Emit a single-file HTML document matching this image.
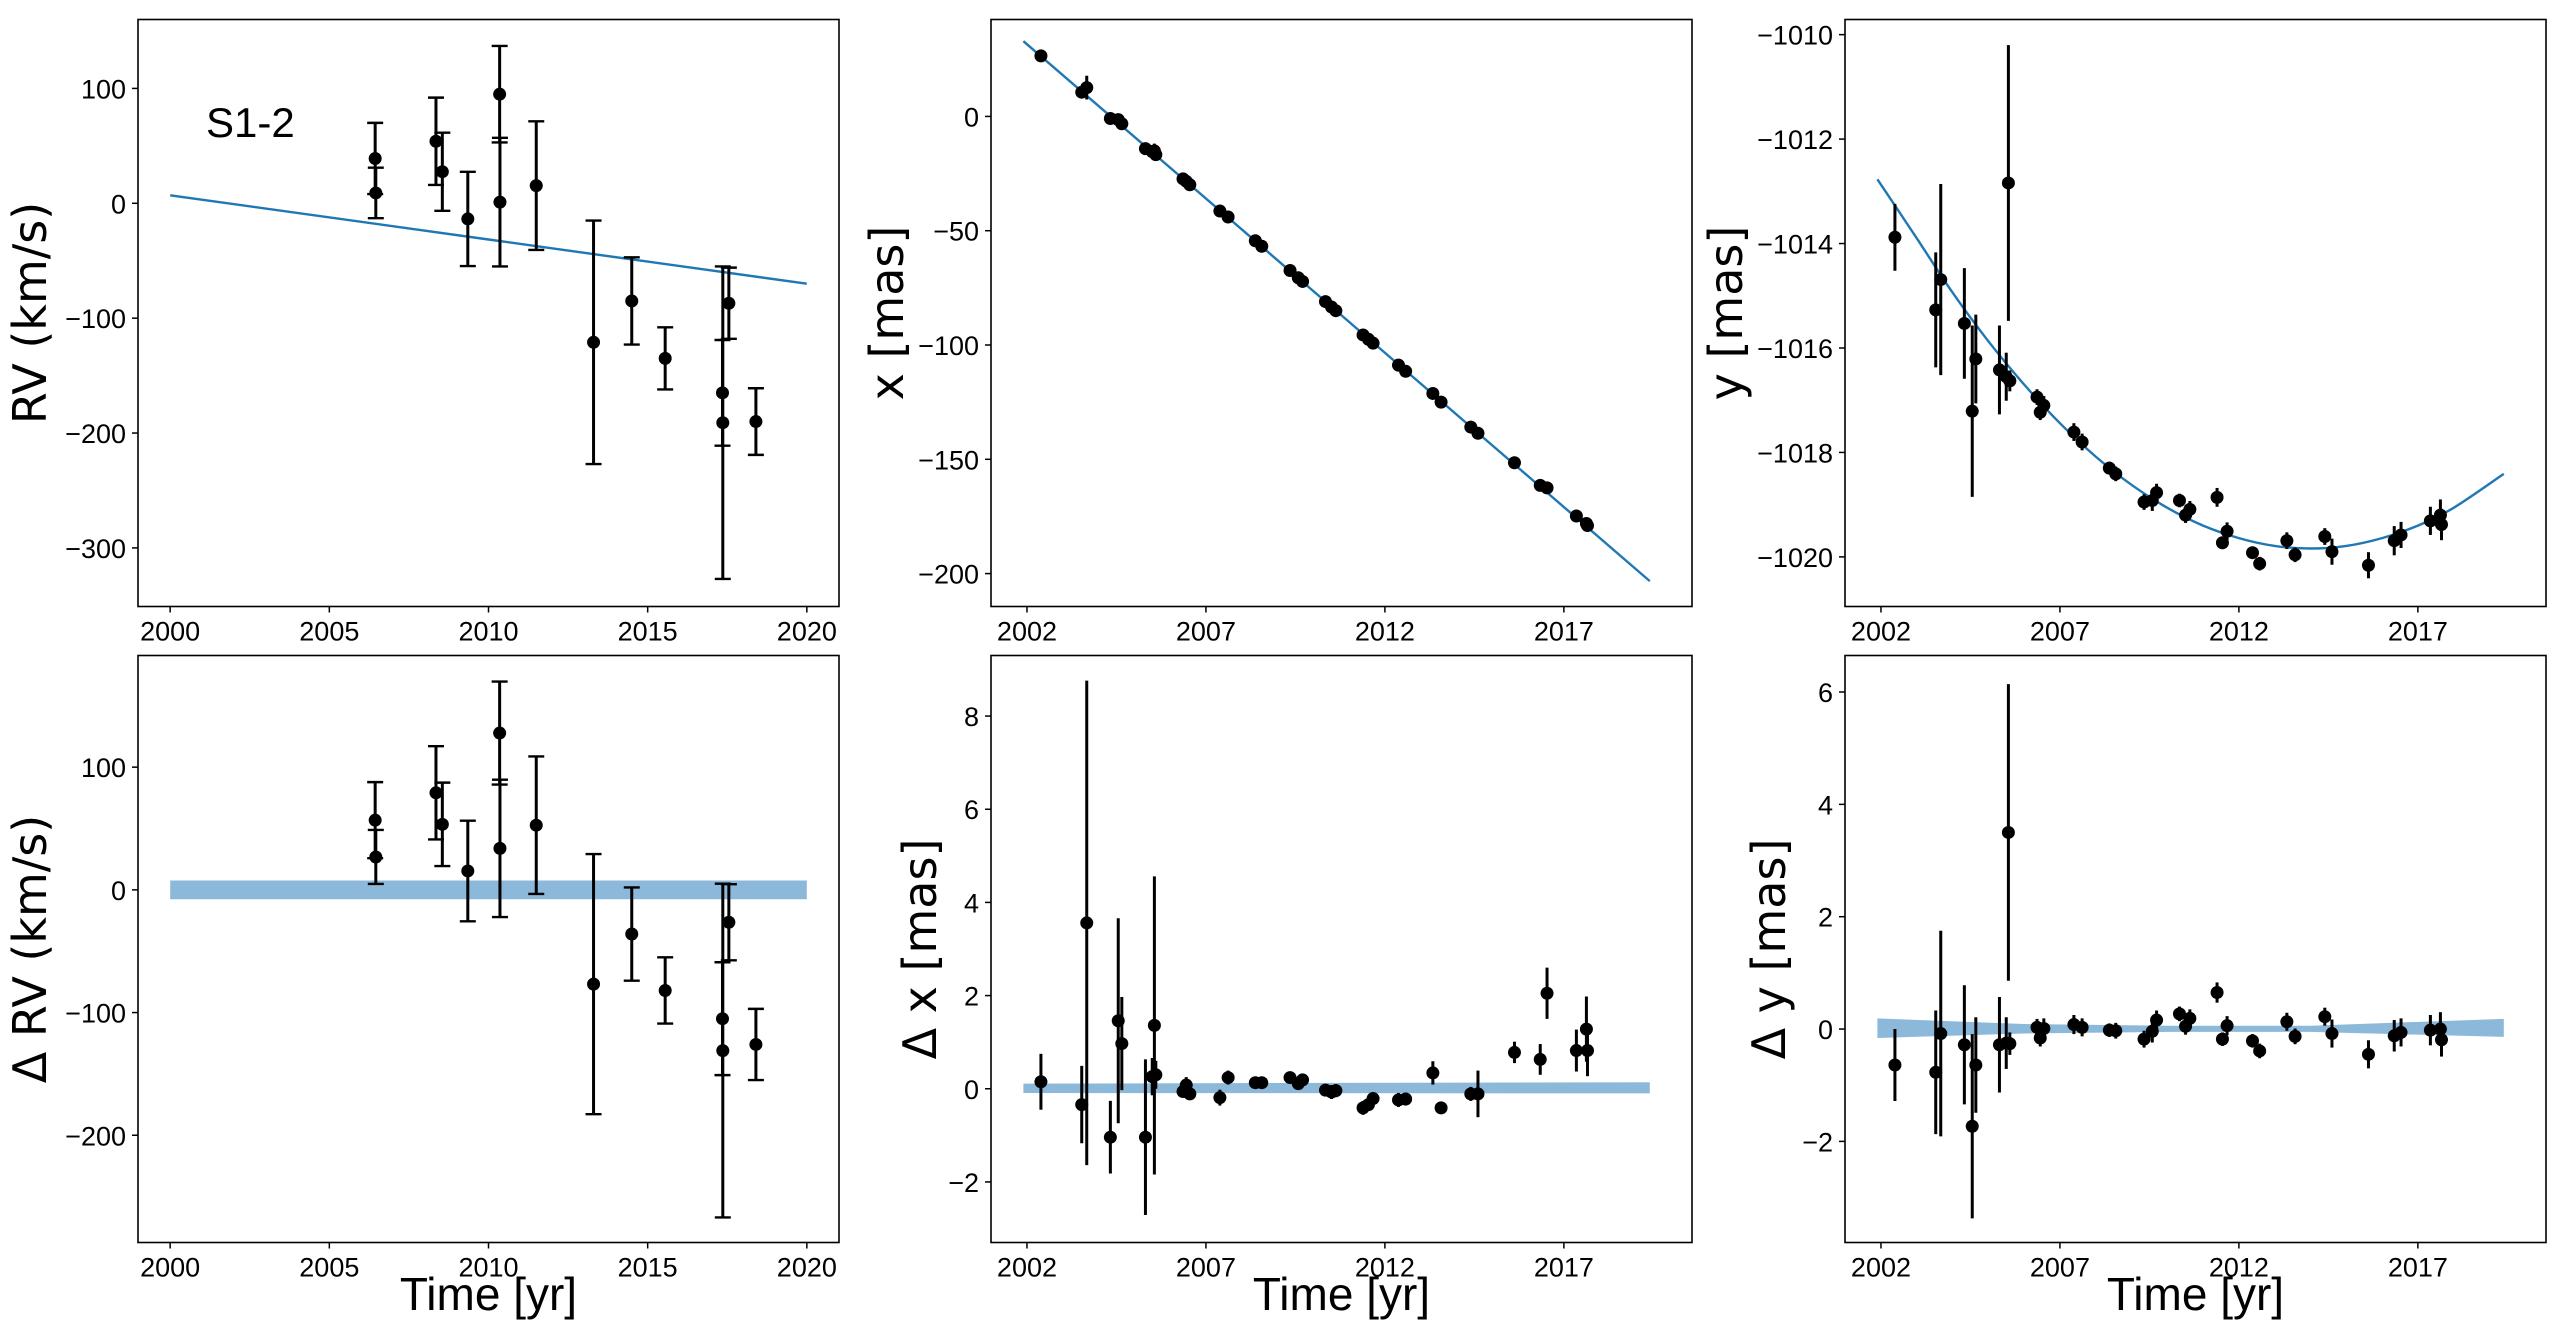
<!DOCTYPE html>
<html><head><meta charset="utf-8">
<style>
html,body{margin:0;padding:0;background:#fff;}
svg{display:block;font-family:"Liberation Sans","DejaVu Sans",sans-serif;}
</style></head>
<body>
<svg id="fig" width="2560" height="1331" viewBox="0 0 2560 1331" xmlns="http://www.w3.org/2000/svg"></svg>
<script>
// ---------- DATA ----------
const rvTimes = [2006.44,2006.46,2008.35,2008.55,2009.35,2010.35,2010.36,2011.5,2013.3,2014.5,2015.55,2017.35,2017.36,2017.55,2018.4];
const rvValues = [39,9,54,27.5,-13.6,95,1,15.4,-121,-85,-135,-165,-191,-87,-190];
const rvErrors = [31,22,38,34,41,42,56,56,106,38,27,46,136,31,29];
const rvResiduals = [56.8,26.8,79.1,53.4,15.4,127.8,33.8,52.7,-76.8,-36,-82,-105,-131,-26.4,-126];
const rvFitT = [2000,2020];
const rvFitV = [7,-70];
const rvBandLow = [-7.6,-7.6];
const rvBandHigh = [7.6,7.6];

const astTimes = [2002.39,2003.53,2003.67,2004.33,2004.55,2004.65,2005.31,2005.5,2005.56,2005.6,2006.36,2006.45,2006.55,2007.39,2007.62,2008.38,2008.56,2009.35,2009.58,2009.7,2010.34,2010.51,2010.63,2011.39,2011.54,2011.67,2012.38,2012.58,2013.34,2013.57,2014.4,2014.6,2015.62,2016.34,2016.53,2017.35,2017.63,2017.66];
const xValues = [26.5,10.6,12.6,-0.9,-1.4,-3.2,-14.1,-15.4,-15.1,-16.7,-27.3,-28.4,-29.9,-41.4,-44.0,-54.4,-56.8,-67.4,-70.6,-72.2,-81.0,-83.4,-85.0,-95.6,-97.5,-99.2,-108.8,-111.5,-121.2,-125.0,-135.9,-138.6,-151.5,-161.4,-162.5,-174.8,-178.1,-179.0];
const xResiduals = [0.15,-0.34,3.56,-1.04,1.46,0.97,-1.04,0.26,1.36,0.3,-0.06,0.08,-0.11,-0.19,0.24,0.13,0.13,0.24,0.11,0.19,-0.03,-0.07,-0.04,-0.41,-0.34,-0.21,-0.24,-0.22,0.34,-0.41,-0.11,-0.11,0.78,0.63,2.05,0.82,1.28,0.82];
const xErrors = [0.6,0.83,5.2,0.78,2.2,1.0,1.67,0.4,3.2,0.3,0.12,0.17,0.12,0.17,0.15,0.1,0.1,0.1,0.13,0.12,0.13,0.15,0.14,0.15,0.13,0.12,0.15,0.14,0.25,0.12,0.15,0.5,0.23,0.33,0.55,0.45,0.7,0.55];
const xFitT = [2001.9,2019.4];
const xFitV = [32.9,-203.3];
const xBandT = [2001.9,2019.4];
const xBandLow = [-0.09,-0.1];
const xBandHigh = [0.11,0.14];

const yValues = [-1013.88,-1015.27,-1014.69,-1015.53,-1017.21,-1016.21,-1016.42,-1016.55,-1012.84,-1016.63,-1016.94,-1017.23,-1017.1,-1017.61,-1017.8,-1018.3,-1018.41,-1018.95,-1018.92,-1018.77,-1018.92,-1019.2,-1019.09,-1018.86,-1019.73,-1019.51,-1019.92,-1020.13,-1019.69,-1019.96,-1019.61,-1019.9,-1020.16,-1019.69,-1019.58,-1019.31,-1019.2,-1019.38];
const yResiduals = [-0.64,-0.77,-0.08,-0.28,-1.73,-0.64,-0.28,-0.25,3.5,-0.26,0.03,-0.16,0.01,0.08,0.03,-0.02,-0.03,-0.18,-0.04,0.16,0.27,0.05,0.19,0.65,-0.18,0.06,-0.21,-0.39,0.13,-0.13,0.22,-0.08,-0.45,-0.12,-0.06,-0.02,0.0,-0.19];
const yErrors = [0.64,1.1,1.83,1.06,1.64,0.85,0.85,0.46,2.64,0.2,0.15,0.15,0.18,0.17,0.16,0.12,0.14,0.15,0.2,0.17,0.13,0.15,0.16,0.18,0.12,0.17,0.12,0.13,0.16,0.14,0.16,0.25,0.25,0.28,0.25,0.27,0.3,0.3];
const yFitT = [2001.9,2003,2004,2005,2006,2007,2008,2009,2010,2011,2012,2013,2014,2015,2016,2017,2018,2019.4];
const yFitV = [-1012.77,-1013.90,-1014.94,-1015.87,-1016.70,-1017.44,-1018.08,-1018.62,-1019.06,-1019.40,-1019.64,-1019.79,-1019.84,-1019.79,-1019.64,-1019.40,-1019.06,-1018.41];
const yBandT = [2001.9,2006,2010,2014,2019.4];
const yBandLow = [-0.16,-0.08,-0.05,-0.05,-0.14];
const yBandHigh = [0.19,0.09,0.06,0.06,0.18];

const rvXTicks = [2000,2005,2010,2015,2020];
const astXTicks = [2002,2007,2012,2017];
const p1YTicks = [100,0,-100,-200,-300];
const p2YTicks = [0,-50,-100,-150,-200];
const p3YTicks = [-1010,-1012,-1014,-1016,-1018,-1020];
const p4YTicks = [100,0,-100,-200];
const p5YTicks = [8,6,4,2,0,-2];
const p6YTicks = [6,4,2,0,-2];

// ---------- DRAWING ----------
const NS = "http://www.w3.org/2000/svg";
const svg = document.getElementById('fig');
function mk(tag, attrs, parent){
  const e = document.createElementNS(NS, tag);
  for (const k in attrs) e.setAttribute(k, attrs[k]);
  (parent||svg).appendChild(e);
  return e;
}
function fmt(v){ return v < 0 ? '\u2212' + Math.abs(v) : String(v); }

function makePanel(name, box, xlim, ylim){
  const g = mk('g', {});
  
  
  const sx = v => box.x + (v - xlim[0]) / (xlim[1] - xlim[0]) * box.w;
  const sy = v => box.y + (ylim[1] - v) / (ylim[1] - ylim[0]) * box.h;
  return {g, sx, sy, box};
}
function drawFrame(p, xticks, yticks, ylabel, xlabel, ylabelX){
  const {g, sx, sy, box} = p;
  const fr = mk('rect', {x:box.x, y:box.y, width:box.w, height:box.h, fill:'none', stroke:'#000', 'stroke-width':1.6}, g);
  
  
  xticks.forEach(t => {
    const X = sx(t);
    mk('line', {x1:X, x2:X, y1:box.y+box.h, y2:box.y+box.h+6, stroke:'#000', 'stroke-width':1.5}, g);
    const tx = mk('text', {x:X, y:box.y+box.h+34, 'font-size':27, 'text-anchor':'middle', fill:'#000'}, g);
    tx.textContent = t;
    
    
  });
  yticks.forEach(t => {
    const Y = sy(t);
    mk('line', {x1:box.x-6, x2:box.x, y1:Y, y2:Y, stroke:'#000', 'stroke-width':1.5}, g);
    const ty = mk('text', {x:box.x-12, y:Y+10, 'font-size':27, 'text-anchor':'end', fill:'#000'}, g);
    ty.textContent = fmt(t);
    
    
  });
  const cy = box.y + box.h/2;
  const yl = mk('text', {x:ylabelX, y:cy, 'font-size':46, 'text-anchor':'middle', transform:`rotate(-90 ${ylabelX} ${cy})`, fill:'#000', 'font-family':'"DejaVu Sans",sans-serif'}, g);
  yl.textContent = ylabel;
  
  
  if (xlabel){
    const xl = mk('text', {x:box.x+box.w/2, y:1310, 'font-size':46, 'text-anchor':'middle', fill:'#000'}, g);
    xl.textContent = xlabel;
    
    
  }
}
function drawLine(p, ts, vs){
  const P = ts.map((t,i) => [p.sx(t), p.sy(vs[i])]);
  let d = 'M' + P[0][0].toFixed(1) + ',' + P[0][1].toFixed(1);
  for (let i = 0; i < P.length-1; i++){
    const p0 = P[Math.max(i-1,0)], p1 = P[i], p2 = P[i+1], p3 = P[Math.min(i+2,P.length-1)];
    const c1 = [p1[0]+(p2[0]-p0[0])/6, p1[1]+(p2[1]-p0[1])/6];
    const c2 = [p2[0]-(p3[0]-p1[0])/6, p2[1]-(p3[1]-p1[1])/6];
    d += ' C' + c1.map(v=>v.toFixed(1)).join(',') + ' ' + c2.map(v=>v.toFixed(1)).join(',') + ' ' + p2.map(v=>v.toFixed(1)).join(',');
  }
  const l = mk('path', {d:d, fill:'none', stroke:'#1f77b4', 'stroke-width':2.4}, p.g);
  
  
}
function drawBand(p, ts, lo, hi){
  const top = ts.map((t,i) => p.sx(t).toFixed(1)+','+p.sy(hi[i]).toFixed(1));
  const bot = ts.map((t,i) => p.sx(t).toFixed(1)+','+p.sy(lo[i]).toFixed(1)).reverse();
  const b = mk('polygon', {points:top.concat(bot).join(' '), fill:'#8cb9da'}, p.g);
  
  
}
function drawPoints(p, ts, vs, es, caps){
  ts.forEach((t,i) => {
    const X = p.sx(t), Y = p.sy(vs[i]);
    const y1 = p.sy(vs[i]+es[i]), y2 = p.sy(vs[i]-es[i]);
    const eb = mk('line', {x1:X, x2:X, y1:y1, y2:y2, stroke:'#000', 'stroke-width':3}, p.g);
    
    
    if (caps){
      mk('line', {x1:X-8, x2:X+8, y1:y1, y2:y1, stroke:'#000', 'stroke-width':2.4}, p.g);
      mk('line', {x1:X-8, x2:X+8, y1:y2, y2:y2, stroke:'#000', 'stroke-width':2.4}, p.g);
    }
    const c = mk('circle', {cx:X, cy:Y, r:6.5, fill:'#000'}, p.g);
    
    
  });
}

const colX = [138, 991, 1845], W = 701;
const rowY = [19.5, 655.5], H = 587;
const rvXlim = [1998.99, 2021.01];
const astXlim = [2000.995, 2020.58];

// Panel 1: RV
const p1 = makePanel('rv-panel', {x:colX[0], y:rowY[0], w:W, h:H}, rvXlim, [-351,160]);
drawLine(p1, rvFitT, rvFitV);
drawPoints(p1, rvTimes, rvValues, rvErrors, true);
drawFrame(p1, rvXTicks, p1YTicks, 'RV (km/s)', null, 46);
const lab = mk('text', {x:206, y:137, 'font-size':42, fill:'#000'}, p1.g);
lab.textContent = 'S1-2';



// Panel 2: x
const p2 = makePanel('x-position-panel', {x:colX[1], y:rowY[0], w:W, h:H}, astXlim, [-214.4,42.4]);
drawLine(p2, xFitT, xFitV);
drawPoints(p2, astTimes, xValues, xErrors, false);
drawFrame(p2, astXTicks, p2YTicks, 'x [mas]', null, 903);

// Panel 3: y
const p3 = makePanel('y-position-panel', {x:colX[2], y:rowY[0], w:W, h:H}, astXlim, [-1020.95,-1009.71]);
drawLine(p3, yFitT, yFitV);
drawPoints(p3, astTimes, yValues, yErrors, false);
drawFrame(p3, astXTicks, p3YTicks, 'y [mas]', null, 1742);

// Panel 4: delta RV
const p4 = makePanel('rv-residual-panel', {x:colX[0], y:rowY[1], w:W, h:H}, rvXlim, [-287.4,191]);
drawBand(p4, rvFitT, rvBandLow, rvBandHigh);
drawPoints(p4, rvTimes, rvResiduals, rvErrors, true);
drawFrame(p4, rvXTicks, p4YTicks, '\u0394 RV (km/s)', 'Time [yr]', 46);

// Panel 5: delta x
const p5 = makePanel('x-residual-panel', {x:colX[1], y:rowY[1], w:W, h:H}, astXlim, [-3.3,9.3]);
drawBand(p5, xBandT, xBandLow, xBandHigh);
drawPoints(p5, astTimes, xResiduals, xErrors, false);
drawFrame(p5, astXTicks, p5YTicks, '\u0394 x [mas]', 'Time [yr]', 936);

// Panel 6: delta y
const p6 = makePanel('y-residual-panel', {x:colX[2], y:rowY[1], w:W, h:H}, astXlim, [-3.8,6.65]);
drawBand(p6, yBandT, yBandLow, yBandHigh);
drawPoints(p6, astTimes, yResiduals, yErrors, false);
drawFrame(p6, astXTicks, p6YTicks, '\u0394 y [mas]', 'Time [yr]', 1785);
</script>
</body></html>
